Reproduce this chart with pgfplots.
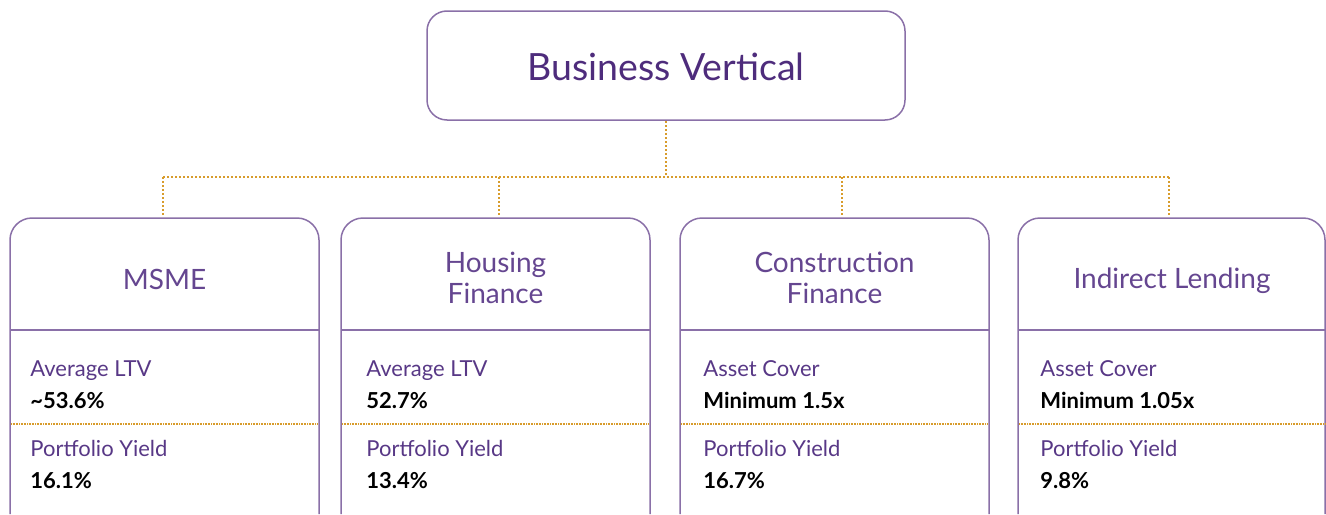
\documentclass[border=0pt]{standalone}
\usepackage{fontspec}
\setmainfont{Lato}
\usepackage{pgfplots}
\pgfplotsset{compat=1.18}
\definecolor{boxLine}{HTML}{8A70A8}
\definecolor{titlePurple}{HTML}{4E2C7C}
\definecolor{headPurple}{HTML}{654690}
\definecolor{labPurple}{HTML}{583886}
\definecolor{gold}{HTML}{D89C2C}

\newcommand{\bigf}{\fontsize{18.75}{22}\selectfont}
\newcommand{\headf}{\fontsize{14}{16}\selectfont}
\newcommand{\labf}{\fontsize{11}{13}\selectfont}

\begin{document}
\begin{tikzpicture}
\begin{axis}[
  scale only axis,
  width=663pt, height=257pt,
  xmin=0, xmax=1326, ymin=0, ymax=514,
  y dir=reverse,
  hide axis,
  clip=true,
]
  % connectors
  \addplot[gold, mark=none, line width=1.1pt, dash pattern=on 1pt off 1pt]
    coordinates {(666,121) (666,177)};
  \addplot[gold, mark=none, line width=1.1pt, dash pattern=on 1pt off 1pt]
    coordinates {(163,177) (1169,177)};
  \addplot[gold, mark=none, line width=1.1pt, dash pattern=on 1pt off 1pt]
    coordinates {(163,177) (163,217)};
  \addplot[gold, mark=none, line width=1.1pt, dash pattern=on 1pt off 1pt]
    coordinates {(499,177) (499,217)};
  \addplot[gold, mark=none, line width=1.1pt, dash pattern=on 1pt off 1pt]
    coordinates {(842,177) (842,217)};
  \addplot[gold, mark=none, line width=1.1pt, dash pattern=on 1pt off 1pt]
    coordinates {(1169,177) (1169,217)};

  % top box
  \addplot[boxLine, mark=none, line width=0.75pt, rounded corners=10pt]
    coordinates {(666,11) (905,11) (905,120) (427,120) (427,11) (666,11)};
  \node[anchor=base, text=titlePurple, font=\bigf] at (axis cs:666,80) {Business Vertical};

  % lower boxes (open at the bottom edge)
  \addplot[boxLine, mark=none, line width=0.75pt, rounded corners=11pt]
    coordinates {(10,514) (10,218) (319,218) (319,514)};
  \addplot[boxLine, mark=none, line width=0.75pt, rounded corners=11pt]
    coordinates {(341,514) (341,218) (650,218) (650,514)};
  \addplot[boxLine, mark=none, line width=0.75pt, rounded corners=11pt]
    coordinates {(680,514) (680,218) (989,218) (989,514)};
  \addplot[boxLine, mark=none, line width=0.75pt, rounded corners=11pt]
    coordinates {(1018,514) (1018,218) (1325,218) (1325,514)};

  % header separators
  \addplot[boxLine, mark=none, line width=0.6pt] coordinates {(10,330) (319,330)};
  \addplot[boxLine, mark=none, line width=0.6pt] coordinates {(341,330) (650,330)};
  \addplot[boxLine, mark=none, line width=0.6pt] coordinates {(680,330) (989,330)};
  \addplot[boxLine, mark=none, line width=0.6pt] coordinates {(1018,330) (1325,330)};

  % gold separators
  \addplot[gold, mark=none, line width=1pt, dash pattern=on 0.5pt off 0.3pt] coordinates {(11,424) (318,424)};
  \addplot[gold, mark=none, line width=1pt, dash pattern=on 0.5pt off 0.3pt] coordinates {(342,424) (649,424)};
  \addplot[gold, mark=none, line width=1pt, dash pattern=on 0.5pt off 0.3pt] coordinates {(681,424) (988,424)};
  \addplot[gold, mark=none, line width=1pt, dash pattern=on 0.5pt off 0.3pt] coordinates {(1019,424) (1325,424)};

  % headers
  \node[anchor=base, text=headPurple, font=\headf] at (axis cs:164.5,289) {MSME};
  \node[anchor=base, text=headPurple, font=\headf] at (axis cs:495.5,272) {Housing};
  \node[anchor=base, text=headPurple, font=\headf] at (axis cs:495.5,303) {Finance};
  \node[anchor=base, text=headPurple, font=\headf] at (axis cs:834.5,272) {Construction};
  \node[anchor=base, text=headPurple, font=\headf] at (axis cs:834.5,303) {Finance};
  \node[anchor=base, text=headPurple, font=\headf] at (axis cs:1172,288) {Indirect Lending};

  % labels and values
  \node[anchor=base west, inner sep=0pt, text=labPurple, font=\labf] at (axis cs:30,376) {Average LTV};
  \node[anchor=base west, inner sep=0pt, font=\labf\bfseries] at (axis cs:30,408) {\textasciitilde 53.6\%};
  \node[anchor=base west, inner sep=0pt, text=labPurple, font=\labf] at (axis cs:30,456) {Portfolio Yield};
  \node[anchor=base west, inner sep=0pt, font=\labf\bfseries] at (axis cs:30,488) {16.1\%};

  \node[anchor=base west, inner sep=0pt, text=labPurple, font=\labf] at (axis cs:366,376) {Average LTV};
  \node[anchor=base west, inner sep=0pt, font=\labf\bfseries] at (axis cs:366,408) {52.7\%};
  \node[anchor=base west, inner sep=0pt, text=labPurple, font=\labf] at (axis cs:366,456) {Portfolio Yield};
  \node[anchor=base west, inner sep=0pt, font=\labf\bfseries] at (axis cs:366,488) {13.4\%};

  \node[anchor=base west, inner sep=0pt, text=labPurple, font=\labf] at (axis cs:703,376) {Asset Cover};
  \node[anchor=base west, inner sep=0pt, font=\labf\bfseries] at (axis cs:703,408) {Minimum 1.5x};
  \node[anchor=base west, inner sep=0pt, text=labPurple, font=\labf] at (axis cs:703,456) {Portfolio Yield};
  \node[anchor=base west, inner sep=0pt, font=\labf\bfseries] at (axis cs:703,488) {16.7\%};

  \node[anchor=base west, inner sep=0pt, text=labPurple, font=\labf] at (axis cs:1040,376) {Asset Cover};
  \node[anchor=base west, inner sep=0pt, font=\labf\bfseries] at (axis cs:1040,408) {Minimum 1.05x};
  \node[anchor=base west, inner sep=0pt, text=labPurple, font=\labf] at (axis cs:1040,456) {Portfolio Yield};
  \node[anchor=base west, inner sep=0pt, font=\labf\bfseries] at (axis cs:1040,488) {9.8\%};
\end{axis}
\pgfresetboundingbox
\path[use as bounding box] (current axis.south west) rectangle (current axis.north east);
\end{tikzpicture}
\end{document}
